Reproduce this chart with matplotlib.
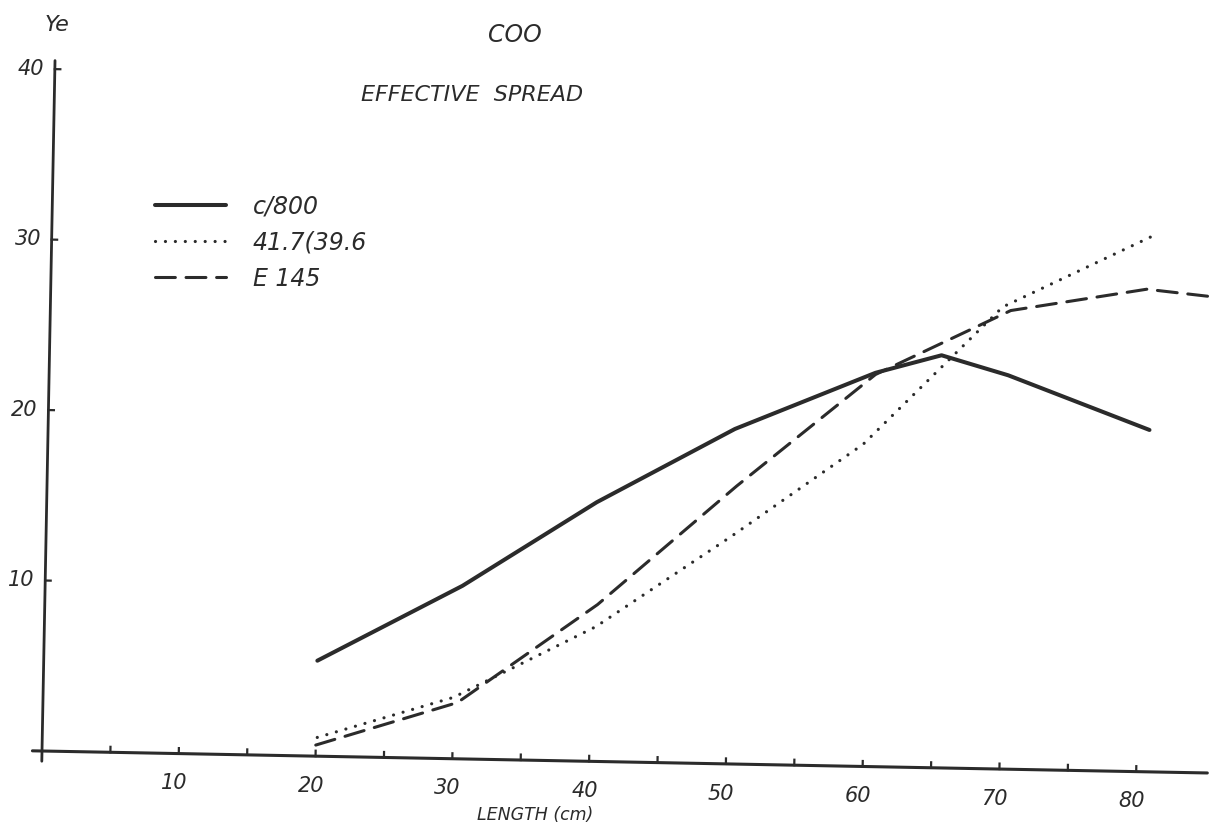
import matplotlib
matplotlib.use("Agg")
import matplotlib.pyplot as plt
from matplotlib.transforms import Affine2D

# Effective spread (Ye) against fish length for three codends
length_c800 = [20.0, 30.5, 40.2, 50.2, 60.4, 65.2, 70.1, 80.5]
ye_c800 = [5.6, 10.15, 15.2, 19.65, 23.1, 24.2, 23.1, 20.05]

length_417 = [20.1, 30.0, 40.3, 50.0, 59.6, 69.6, 80.4]
ye_417 = [1.1, 3.6, 7.9, 13.3, 18.9, 27.1, 31.4]

length_e145 = [20.0, 30.3, 40.4, 50.4, 60.4, 70.2, 80.1, 85.3]
ye_e145 = [0.65, 3.3, 9.2, 16.3, 23.0, 26.9, 28.3, 27.9]

series_labels = ["c/800", "41.7(39.6", "E 145"]

x_major = [10, 20, 30, 40, 50, 60, 70, 80]
x_major_labels = ["10", "20", "30", "40", "50", "60", "70", "80"]
x_minor = [5, 10, 15, 20, 25, 30, 35, 40, 45, 50, 55, 60, 65, 70, 75, 80]
y_major = [10, 20, 30, 40]
y_major_labels = ["10", "20", "30", "40"]

INK = "#2b2b2b"
W, H, DPI = 1225, 835, 100
fig = plt.figure(figsize=(W / DPI, H / DPI), dpi=DPI)
fig.patch.set_facecolor("white")
ax = fig.add_axes([0, 0, 1, 1])
ax.axis("off")

# data frame: origin at pixel (42, 751 from top), 13.68 px per cm, 17.05 px per unit
ox, oy_top = 42.0, 751.0
sx, sy = 13.68, 17.05
ax.set_xlim(-ox / sx, (W - ox) / sx)
ax.set_ylim(-(H - oy_top) / sy, oy_top / sy)

# the sheet sits slightly tilted: whole frame turned about the origin
tilt = Affine2D().rotate_deg_around(ox, H - oy_top, -1.08)
rot = ax.transData + tilt

# axes drawn by hand
ax.plot([-0.7, 85.2], [0, 0], color=INK, lw=2.2, transform=rot, solid_capstyle="round")
ax.plot([0, 0], [-0.6, 40.5], color=INK, lw=2.0, transform=rot, solid_capstyle="round")
for xv in x_minor:
    ax.plot([xv, xv], [0, 0.32], color=INK, lw=1.6, transform=rot)
for yv in y_major:
    ax.plot([0, 0.4], [yv, yv], color=INK, lw=1.6, transform=rot)

font = dict(style="italic", color=INK, family="DejaVu Sans")
for xv, lab in zip(x_major, x_major_labels):
    ax.text(xv - 0.3, -1.75, lab, fontsize=15, ha="center", va="center",
            transform=rot, **font)
for yv, lab in zip(y_major, y_major_labels):
    ax.text(-1.75, yv, lab, fontsize=15, ha="center", va="center",
            transform=rot, **font)

# series
l1, = ax.plot(length_c800, ye_c800, color=INK, lw=2.9, transform=rot,
              solid_joinstyle="round", solid_capstyle="round", label=series_labels[0])
l2, = ax.plot(length_417, ye_417, color=INK, lw=2.3, transform=rot,
              linestyle=(0, (0.01, 3.1)), dash_capstyle="round", label=series_labels[1])
l3, = ax.plot(length_e145, ye_e145, color=INK, lw=2.2, transform=rot,
              linestyle=(0, (6.5, 3.5)), dash_capstyle="round", label=series_labels[2])

ax.legend(handles=[l1, l2, l3], loc="upper left",
          bbox_to_anchor=(155 / W, 1 - 194 / H), bbox_transform=fig.transFigure,
          frameon=False, handlelength=3.0, handletextpad=1.15, labelspacing=0.52,
          borderpad=0, borderaxespad=0,
          prop=dict(style="italic", size=17, family="DejaVu Sans"),
          labelcolor=INK)

# titles and axis names
fig.text(57 / W, 1 - 25 / H, "Ye", fontsize=16, ha="center", va="center", **font)
fig.text(515 / W, 1 - 35 / H, "COO", fontsize=17, ha="center", va="center", **font)
fig.text(472 / W, 1 - 95 / H, "EFFECTIVE  SPREAD", fontsize=16, ha="center",
         va="center", **font)
fig.text(535 / W, 1 - 815 / H, "LENGTH (cm)", fontsize=12.5, ha="center",
         va="center", **font)

fig.savefig("out.png", dpi=DPI, facecolor="white")
